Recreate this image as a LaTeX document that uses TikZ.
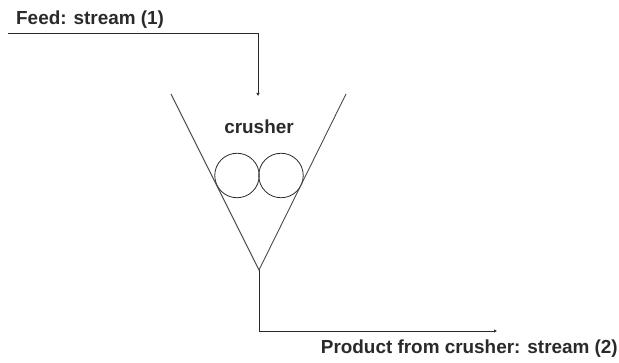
\documentclass[tikz,border=0pt]{standalone}
\usepackage{fontspec}
\setmainfont{Liberation Sans}
\usepackage{xcolor}
\usetikzlibrary{arrows.meta, positioning}
\definecolor{ink}{HTML}{2A2A2A}
\tikzset{
  pipe/.style    ={line width=0.8pt, draw=ink},
  flow/.style    ={pipe, -{Latex[length=3pt,width=3.5pt]}},
  wall/.style    ={line width=0.9pt, draw=ink!85},
  roller/.style  ={circle, draw=ink, line width=0.8pt, minimum size=44.5pt,
                   inner sep=0pt},
  tag/.style     ={font=\bfseries\fontsize{18.9}{21}\selectfont, text=ink,
                   inner sep=0pt}
}
\begin{document}
\begin{tikzpicture}[x=1pt, y=-1pt]
  \useasboundingbox (0,0) rectangle (619,363);

  % Feed
  \coordinate (feedin) at (8,33);
  \coordinate (feedbend) at (258,33);
  \coordinate (feedout) at (258,96);
  \node[tag, anchor=base west] (feed) at (16,25) {Feed: stream (1)};
  \draw[flow] (feedin) -- (feedbend) -- (feedout);

  % Crusher
  \coordinate (lefttop) at (171,94);
  \coordinate (righttop) at (346,94);
  \coordinate (throat) at (259,270);
  \node[roller] (rollerl) at (237,175.5) {};
  \node[roller] (rollerr) at (281,175.5) {};
  \node[tag, anchor=base] (crusher) at (259,134) {crusher};
  \draw[wall] (lefttop) -- (throat) -- (righttop);

  % Product
  \coordinate (prodbend) at (259,331);
  \coordinate (prodout) at (497,331);
  \node[tag, anchor=base east] (product) at (618,354) {Product from crusher: stream (2)};
  \draw[flow] (throat) -- (prodbend) -- (prodout);
\end{tikzpicture}
\end{document}
